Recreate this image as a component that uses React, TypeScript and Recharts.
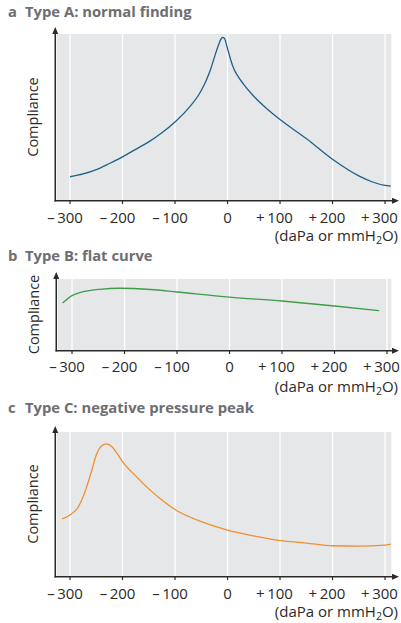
import React from "react";
import { LineChart, Line, XAxis, YAxis, CartesianGrid } from "recharts";

// pressure ticks (daPa)
const TICKS = [-300, -200, -100, 0, 100, 200, 300];

// a: normal finding
const PRESSURE_A = [-300, -275, -250, -225, -200, -175, -150, -125, -100, -75, -50, -40, -33, -24, -17, -14, -11, -9, -7, -4, -2, 2, 6, 12, 20, 30, 50, 75, 100, 150, 200, 250, 275, 300, 311];
const COMPLIANCE_A = [14, 15.7, 18.3, 22, 26, 30.5, 35, 40.5, 47, 55, 66, 72.5, 78, 87, 93.5, 96, 97.6, 98, 97.7, 96, 93.5, 89, 84.5, 79, 74.5, 70, 62.5, 55, 48.5, 37, 24.5, 14.5, 11, 8.8, 8.4];

// b: flat curve
const PRESSURE_B = [-318, -300, -285, -247, -209, -150, -100, 0, 100, 200, 285];
const COMPLIANCE_B = [66, 76.5, 80.7, 85.5, 87, 85.2, 81.7, 74.6, 69, 62, 55.4];

// c: negative pressure peak
const PRESSURE_C = [-315, -300, -285, -270, -260, -250, -240, -230, -220, -210, -200, -175, -150, -125, -100, -75, -50, 0, 50, 100, 150, 200, 250, 300, 311];
const COMPLIANCE_C = [39.6, 42.4, 47.5, 60, 71.5, 84, 90.3, 91.7, 89.8, 85, 79.4, 69.5, 60.5, 52.8, 46.2, 41.5, 37.7, 31.9, 27.8, 24.5, 22.9, 21, 20.8, 21.5, 22.2];

const FONT = '"Open Sans", "DejaVu Sans", sans-serif';
const W = 401;
const GREY = "#e6e7e8";
const INK = "#2b2a29";
const TITLE_INK = "#6d6e71";

const zip = (p: number[], c: number[]) => p.map((v, i) => ({ p: v, c: c[i] }));

const PANELS = [
  {
    letter: "a",
    title: "Type A: normal finding",
    color: "#1f6189",
    data: zip(PRESSURE_A, COMPLIANCE_A),
    top: 0,
    height: 245,
    margin: { top: 34, right: 9, bottom: 15, left: 56 },
    domain: [-326.7, 313.3],
    arrowGap: 7,
    titleY: 17,
    tickY: 19,
    unitY: 241,
  },
  {
    letter: "b",
    title: "Type B: flat curve",
    color: "#3f9c47",
    data: zip(PRESSURE_B, COMPLIANCE_B),
    top: 250,
    height: 145,
    margin: { top: 29, right: 9, bottom: 15, left: 57 },
    domain: [-328.6, 309.5],
    arrowGap: 7,
    titleY: 11,
    tickY: 18,
    unitY: 142,
  },
  {
    letter: "c",
    title: "Type C: negative pressure peak",
    color: "#ef8f2f",
    data: zip(PRESSURE_C, COMPLIANCE_C),
    top: 400,
    height: 223,
    margin: { top: 32, right: 9, bottom: 17, left: 56 },
    domain: [-326.7, 313.3],
    arrowGap: 6,
    titleY: 13,
    tickY: 19,
    unitY: 217,
  },
];

function makeTick(offset: number) {
  return function PressureTick(props: any) {
    const { x, y, payload } = props;
    const v: number = payload.value;
    const num = String(Math.abs(v));
    if (v === 0) {
      return (
        <text x={x} y={y + offset} textAnchor="middle" fontFamily={FONT} fontSize={15} fill={INK}>
          {num}
        </text>
      );
    }
    const sign = v < 0 ? "\u2013" : "+";
    const half = num.length * 4.3;
    return (
      <text x={x + half} y={y + offset} textAnchor="end" fontFamily={FONT} fontSize={15} fill={INK}>
        {sign + "\u2009" + num}
      </text>
    );
  };
}

function Panel({ panel }: { panel: (typeof PANELS)[number] }) {
  const { margin, height, arrowGap } = panel;
  const plotTop = margin.top;
  const plotBottom = height - margin.bottom - 30;
  const ax = margin.left - 0.75;
  const tipY = plotTop - arrowGap;
  const tipX = 399;
  return (
    <div style={{ position: "absolute", left: 0, top: panel.top, width: W, height }}>
      <LineChart width={W} height={height} data={panel.data} margin={margin}>
        <CartesianGrid fill={GREY} fillOpacity={1} stroke="#ffffff" strokeWidth={1.3} horizontal={false} />
        <XAxis
          type="number"
          dataKey="p"
          domain={panel.domain}
          ticks={TICKS}
          interval={0}
          allowDataOverflow
          axisLine={false}
          tickLine={{ stroke: INK, strokeWidth: 1.2 }}
          tickSize={4}
          tickMargin={0}
          height={30}
          tick={makeTick(panel.tickY)}
        />
        <YAxis hide domain={[0, 100]} />
        <Line
          type="monotone"
          dataKey="c"
          stroke={panel.color}
          strokeWidth={1.3}
          dot={false}
          isAnimationActive={false}
        />
      </LineChart>
      <svg
        width={W}
        height={height}
        style={{ position: "absolute", left: 0, top: 0, pointerEvents: "none", overflow: "visible" }}
        fontFamily={FONT}
      >
        <text x={8} y={panel.titleY} fontSize={14.8} fontWeight={700} fill={TITLE_INK}>
          {panel.letter}
        </text>
        <text x={25} y={panel.titleY} fontSize={14.8} fontWeight={700} fill={TITLE_INK}>
          {panel.title}
        </text>
        <line x1={ax} y1={plotBottom + 1.5} x2={ax} y2={tipY + 5} stroke={INK} strokeWidth={1.5} />
        <polygon points={`${ax},${tipY} ${ax - 3},${tipY + 7} ${ax + 3},${tipY + 7}`} fill={INK} />
        <line x1={ax - 0.75} y1={plotBottom + 0.75} x2={tipX - 5} y2={plotBottom + 0.75} stroke={INK} strokeWidth={1.5} />
        <polygon
          points={`${tipX},${plotBottom + 0.75} ${tipX - 7},${plotBottom - 2.25} ${tipX - 7},${plotBottom + 3.75}`}
          fill={INK}
        />
        <text
          x={margin.left - 18}
          y={(plotTop + plotBottom) / 2}
          transform={`rotate(-90 ${margin.left - 18} ${(plotTop + plotBottom) / 2})`}
          textAnchor="middle"
          fontSize={14.5}
          fill={INK}
        >
          Compliance
        </text>
        <text x={398} y={panel.unitY} textAnchor="end" fontSize={15} fill={INK}>
          (daPa or mmH
          <tspan fontSize={10.5} dy={3}>
            2
          </tspan>
          <tspan dy={-3}>O)</tspan>
        </text>
      </svg>
    </div>
  );
}

export default function App() {
  return (
    <div style={{ position: "absolute", left: 0, top: 0, width: W, height: 623, background: "#ffffff" }}>
      {PANELS.map((p) => (
        <Panel key={p.letter} panel={p} />
      ))}
    </div>
  );
}
